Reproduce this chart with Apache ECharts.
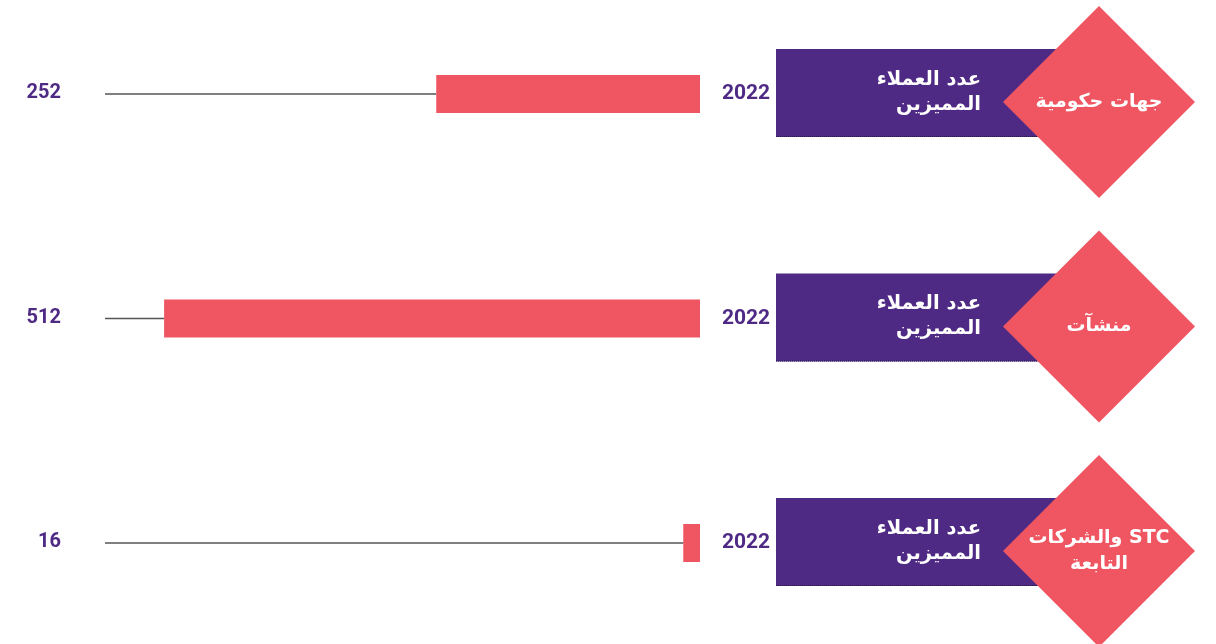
<!DOCTYPE html>
<html>
<head>
    <meta charset="utf-8">
    <script src="https://cdn.jsdelivr.net/npm/echarts@6/dist/echarts.min.js"></script>
    <style>
        html, body { margin: 0; padding: 0; background: #fff; }
    </style>
</head>
<body>
<div id="main" style="width: 1216px;height:644px"></div>

<script type="text/javascript">
    // data
    var categories = ['جهات حكومية', 'منشآت', 'والشركات STC\nالتابعة'];
    var values = [252, 512, 16];
    var years = ['2022', '2022', '2022'];
    var boxLabel = 'عدد العملاء\nالمميزين';

    var PURPLE = '#4f2a85';
    var CORAL = '#f05662';

    var chartDom = document.getElementById('main');
    var myChart = echarts.init(chartDom);
    var option;

    // rows: [value, category]
    var rows = values.map(function (v, i) { return [v, categories[i]]; });

    option = {
        backgroundColor: '#fff',
        animation: false,
        grid: { left: 72, right: 516, top: 94, bottom: 101 },
        xAxis: { type: 'value', inverse: true, min: 0, max: 600, show: false },
        yAxis: { type: 'category', data: categories, inverse: true, boundaryGap: false, show: false },
        series: [
            {
                // purple box, year, diamond (drawn behind the bar)
                type: 'custom',
                z: 1,
                clip: false,
                data: rows,
                renderItem: function (params, api) {
                    var p = api.coord([0, api.value(1)]);
                    var x0 = p[0], y = p[1];
                    var i = params.dataIndex;
                    var dx = 1099, dy = y + 8, r = 96;
                    return {
                        type: 'group',
                        children: [
                            { type: 'rect', shape: { x: x0 + 76, y: y - 45, width: 330, height: 88 },
                              style: { fill: PURPLE } },
                            { type: 'line', shape: { x1: x0 + 76, y1: y + 42.5, x2: dx - 40, y2: y + 42.5 },
                              style: { stroke: '#2a1a40', lineWidth: 1, lineDash: [1, 1] } },
                            { type: 'text', x: 981, y: y - 2,
                              style: { text: boxLabel, fill: '#fff', align: 'right', verticalAlign: 'middle',
                                       font: 'bold 19.5px "DejaVu Sans"', lineHeight: 25 } },
                            { type: 'text', x: x0 + 46, y: y,
                              style: { text: years[i], fill: PURPLE, align: 'center', verticalAlign: 'middle',
                                       font: 'bold 21px Roboto' } },
                            { type: 'polygon', shape: { points: [[dx, dy - r], [dx + r, dy], [dx, dy + r], [dx - r, dy]] },
                              style: { fill: CORAL } },
                            { type: 'text', x: dx, y: dy,
                              style: { text: categories[i], fill: '#fff', align: 'center', verticalAlign: 'middle',
                                       font: 'bold 19px "DejaVu Sans"', lineHeight: 26 } }
                        ]
                    };
                }
            },
            {
                name: 'value',
                type: 'bar',
                z: 2,
                clip: false,
                barWidth: 38,
                itemStyle: { color: CORAL },
                data: values
            },
            {
                // leader line + value label
                type: 'custom',
                z: 3,
                clip: false,
                data: rows,
                renderItem: function (params, api) {
                    var p = api.coord([api.value(0), api.value(1)]);
                    return {
                        type: 'group',
                        children: [
                            { type: 'line', shape: { x1: 105, y1: p[1], x2: p[0], y2: p[1] },
                              style: { stroke: '#555', lineWidth: 1.5 } },
                            { type: 'text', x: 61, y: p[1] - 1,
                              style: { text: String(api.value(0)), fill: PURPLE, align: 'right', verticalAlign: 'middle',
                                       font: 'bold 20px Roboto' } }
                        ]
                    };
                }
            }
        ]
    };

    option && myChart.setOption(option);
</script>
</body>
</html>
